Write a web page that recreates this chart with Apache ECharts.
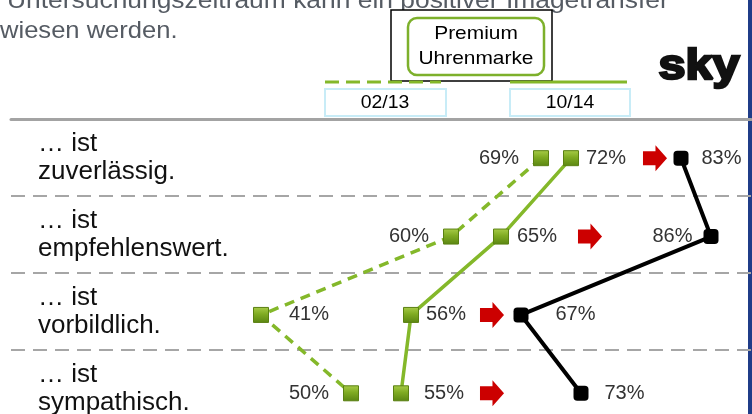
<!DOCTYPE html>
<html><head><meta charset="utf-8">
<script src="https://cdn.jsdelivr.net/npm/echarts@6/dist/echarts.min.js"></script>
<style>html,body{margin:0;padding:0;background:#fff;overflow:hidden}#c{width:752px;height:414px}</style>
</head><body><div id="c"></div>
<script>
const categories = ['… ist\nzuverlässig.', '… ist\nempfehlenswert.', '… ist\nvorbildlich.', '… ist\nsympathisch.'];
const values0213 = [69, 60, 41, 50];
const values1014 = [72, 65, 56, 55];
const valuesSky = [83, 86, 67, 73];
const arrowPos = [80.4, 73.9, 64.1, 64.1];
const periodLabels = ['02/13', '10/14'];
const headerLines = ['Untersuchungszeitraum kann ein positiver Imagetransfer', 'wiesen werden.'];
const brandTitle = 'Premium\nUhrenmarke';
const brandLogo = 'sky';

// label styling (not data)
const pos0213 = ['left', 'left', 'right', 'left'];
const dist0213 = [14, 14, 20, 14];
const pos1014 = ['right', 'right', 'right', 'right'];
const dist1014 = [7, 8, 7, 15];
const posSky = ['right', 'left', 'right', 'right'];
const distSky = [13, 11, 27, 16];

const FONT = '"Liberation Sans", Arial, sans-serif';
const GREEN = '#84b82a';
const greenMarker = new echarts.graphic.LinearGradient(0, 0, 0, 1, [
  { offset: 0, color: '#a8cc48' }, { offset: 0.45, color: '#7fab22' }, { offset: 1, color: '#5a8512' }
]);
const labelBase = { show: true, color: '#333', fontSize: 20, fontFamily: FONT, formatter: p => p.value[0] + '%' };

function mk(vals, pos, dist) {
  return vals.map((v, i) => ({ value: [v, i], label: Object.assign({}, labelBase, { position: pos[i], distance: dist[i] }) }));
}

const chart = echarts.init(document.getElementById('c'), null, { renderer: 'canvas' });
chart.setOption({
  animation: false,
  grid: { left: 11, top: 119, width: 740, height: 308, outerBoundsMode: 'none', containLabel: false },
  xAxis: {
    type: 'value', min: 16, max: 90, position: 'top',
    axisLine: { show: true, onZero: false, lineStyle: { color: '#a3a3a3', width: 3 } },
    axisTick: { show: false }, axisLabel: { show: false }, splitLine: { show: false }
  },
  yAxis: [{
    type: 'category', inverse: true, data: categories,
    axisLine: { show: false }, axisTick: { show: false },
    axisLabel: { inside: true, margin: 27, color: '#111', fontSize: 26, lineHeight: 28, fontFamily: FONT, align: 'left' },
    splitLine: { show: true, lineStyle: { color: '#a6a6a6', width: 2, type: [14, 8] } }
  }, {
    type: 'value', inverse: true, min: -0.5, max: 3.43, show: false
  }],
  series: [{
    name: periodLabels[0], type: 'line', yAxisIndex: 1,
    data: mk(values0213, pos0213, dist0213),
    symbol: 'rect', symbolSize: 15,
    lineStyle: { color: GREEN, width: 3.5, type: [10, 7] },
    itemStyle: { color: greenMarker, borderColor: '#5a8012', borderWidth: 1 }, z: 3
  }, {
    name: periodLabels[1], type: 'line', yAxisIndex: 1,
    data: mk(values1014, pos1014, dist1014),
    symbol: 'rect', symbolSize: 15,
    lineStyle: { color: GREEN, width: 3.5 },
    itemStyle: { color: greenMarker, borderColor: '#5a8012', borderWidth: 1 }, z: 3
  }, {
    name: brandLogo, type: 'line', yAxisIndex: 1,
    data: mk(valuesSky, posSky, distSky),
    symbol: 'roundRect', symbolSize: 15,
    lineStyle: { color: '#000', width: 4 },
    itemStyle: { color: '#000' }, z: 3
  }, {
    name: 'arrows', type: 'scatter', yAxisIndex: 1,
    data: arrowPos.map((v, i) => [v, i]),
    symbol: 'path://M0,6 L13,6 L13,0 L25,13 L13,26 L13,20 L0,20 Z',
    symbolSize: [25, 26], symbolKeepAspect: true,
    itemStyle: { color: '#cc0000', opacity: 1 }, z: 2
  }],
  graphic: [
    { type: 'text', x: 7, y: 1, scaleX: 1.1, style: { text: headerLines[0], fill: '#555b63', font: '24px ' + FONT, verticalAlign: 'middle' } },
    { type: 'text', x: 0, y: 31, scaleX: 1.065, style: { text: headerLines[1], fill: '#555b63', font: '24px ' + FONT, verticalAlign: 'middle' } },
    { type: 'rect', shape: { x: 391, y: 10, width: 161, height: 71 }, style: { fill: '#fff', stroke: '#000', lineWidth: 1.5 } },
    { type: 'rect', shape: { x: 408, y: 18, width: 136, height: 57, r: 9 }, style: { fill: '#fff', stroke: '#7db02b', lineWidth: 2.5 } },
    { type: 'text', x: 476, y: 46, scaleX: 1.1, style: { text: brandTitle, fill: '#000', font: '19px ' + FONT, align: 'center', verticalAlign: 'middle', lineHeight: 25 } },
    { type: 'line', shape: { x1: 325, y1: 82, x2: 441, y2: 82 }, style: { stroke: GREEN, lineWidth: 3, lineDash: [14, 7] } },
    { type: 'line', shape: { x1: 510, y1: 82, x2: 627, y2: 82 }, style: { stroke: GREEN, lineWidth: 3 } },
    { type: 'rect', shape: { x: 325, y: 89, width: 121, height: 27 }, style: { fill: '#fff', stroke: '#c8ecf7', lineWidth: 2 } },
    { type: 'rect', shape: { x: 510, y: 89, width: 120, height: 27 }, style: { fill: '#fff', stroke: '#c8ecf7', lineWidth: 2 } },
    { type: 'text', x: 385, y: 103, scaleX: 1.08, style: { text: periodLabels[0], fill: '#000', font: '18px ' + FONT, align: 'center', verticalAlign: 'middle' } },
    { type: 'text', x: 570, y: 103, scaleX: 1.08, style: { text: periodLabels[1], fill: '#000', font: '18px ' + FONT, align: 'center', verticalAlign: 'middle' } },
    { type: 'text', x: 699, y: 67, scaleX: 1.13, style: { text: brandLogo, fill: '#111', stroke: '#111', lineWidth: 2.5, font: 'bold 43px ' + FONT, align: 'center', verticalAlign: 'middle' } },
    { type: 'rect', shape: { x: 748, y: 0, width: 4, height: 414 }, style: { fill: '#1f3c88' } }
  ]
});
</script></body></html>
